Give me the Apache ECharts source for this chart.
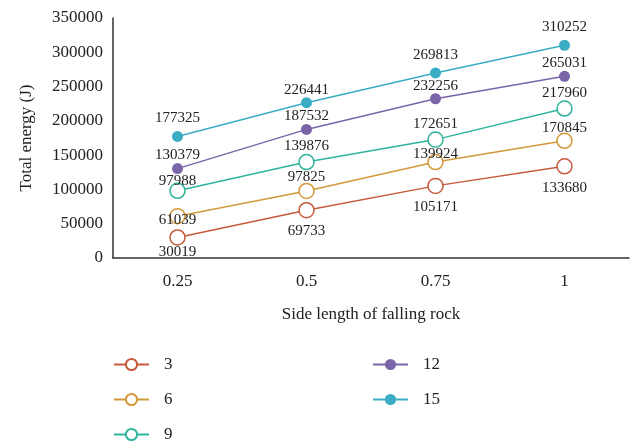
<!DOCTYPE html>
<html><head><meta charset="utf-8">
<script src="https://cdn.jsdelivr.net/npm/echarts@6/dist/echarts.min.js"></script>
<style>html,body{margin:0;padding:0;background:#fff}#c{width:634px;height:443px}</style>
</head><body><div id="c"></div>
<script>
const categories = ['0.25', '0.5', '0.75', '1'];
const seriesNames = ['3', '6', '9', '12', '15'];
const s3 = [30019, 69733, 105171, 133680];
const s6 = [61039, 97825, 139924, 170845];
const s9 = [97988, 139876, 172651, 217960];
const s12 = [130379, 187532, 232256, 265031];
const s15 = [177325, 226441, 269813, 310252];
const yTicks = [0, 50000, 100000, 150000, 200000, 250000, 300000, 350000];

const values = [s3, s6, s9, s12, s15];
const colors = ['#c75a3c', '#d4993a', '#2fb49e', '#7a65a8', '#3aadc5'];
const hollow = [true, true, true, false, false];
// vertical label offsets (px) relative to the marker centre
const labelDy = [
  [15, 21, 21, 22],
  [4, -14, -8, -13],
  [-10, -16, -16, -15],
  [-14, -13, -13, -13],
  [-18, -13, -18, -18]
];
const FONT = 'Liberation Serif';

const series = values.map((vals, i) => ({
  name: seriesNames[i],
  type: 'line',
  data: vals.map((v, j) => ({ value: v, label: { offset: [0, labelDy[i][j]] } })),
  symbol: 'circle',
  symbolSize: hollow[i] ? 15 : 11,
  lineStyle: { color: colors[i], width: 1.5 },
  itemStyle: hollow[i] ? { color: '#fff', borderColor: colors[i], borderWidth: 1.5 } : { color: colors[i], borderColor: colors[i], borderWidth: 0 },
  label: { show: true, position: 'inside', color: '#222', fontFamily: FONT, fontSize: 15 },
  emphasis: { disabled: true },
  z: 2 + i
}));

const chart = echarts.init(document.getElementById('c'), null, { renderer: 'canvas' });
chart.setOption({
  animation: false,
  backgroundColor: '#fff',
  grid: { left: 113, right: 5, top: 18, bottom: 185, containLabel: false },
  xAxis: {
    type: 'category', data: categories, boundaryGap: true,
    name: 'Side length of falling rock', nameLocation: 'middle', nameGap: 48,
    nameTextStyle: { fontFamily: FONT, fontSize: 17, color: '#222' },
    axisLine: { lineStyle: { color: '#333', width: 1.5 } },
    axisTick: { show: false },
    axisLabel: { fontFamily: FONT, fontSize: 17, color: '#222', margin: 15 }
  },
  yAxis: {
    type: 'value', min: yTicks[0], max: yTicks[yTicks.length - 1], interval: yTicks[1] - yTicks[0],
    name: 'Total energy (J)', nameLocation: 'middle', nameGap: 78,
    nameTextStyle: { fontFamily: FONT, fontSize: 17, color: '#222' },
    axisLine: { show: true, lineStyle: { color: '#333', width: 1.5 } },
    axisTick: { show: false },
    splitLine: { show: false },
    axisLabel: { fontFamily: FONT, fontSize: 17, color: '#222', margin: 10, formatter: v => String(v) }
  },
  legend: [
    { data: ['3', '6', '9'], orient: 'vertical', left: 113, top: 356, height: 200, padding: 0, itemWidth: 35, itemHeight: 14, itemGap: 18,
      textStyle: { fontFamily: FONT, fontSize: 17, color: '#222', padding: [0, 0, 0, 10] } },
    { data: ['12', '15'], orient: 'vertical', left: 372, top: 356, height: 200, padding: 0, itemWidth: 35, itemHeight: 14, itemGap: 18,
      textStyle: { fontFamily: FONT, fontSize: 17, color: '#222', padding: [0, 0, 0, 10] } }
  ],
  series: series
});
</script></body></html>
